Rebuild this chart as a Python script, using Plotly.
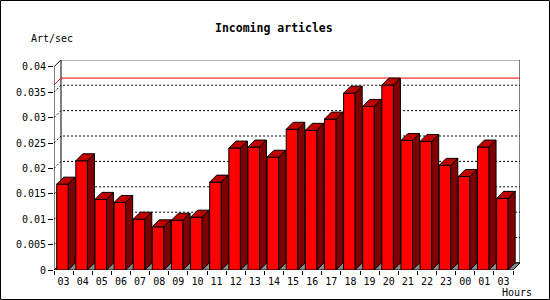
import plotly.graph_objects as go

hours = ["03", "04", "05", "06", "07", "08", "09", "10", "11", "12", "13", "14",
         "15", "16", "17", "18", "19", "20", "21", "22", "23", "00", "01", "03"]
values = [0.0169, 0.0215, 0.0139, 0.0133, 0.0100, 0.0085, 0.0098, 0.0104,
          0.0173, 0.0240, 0.0242, 0.0222, 0.0277, 0.0275, 0.0297, 0.0348,
          0.0322, 0.0364, 0.0255, 0.0253, 0.0206, 0.0184, 0.0242, 0.0141]
y_ticks = [0, 0.005, 0.01, 0.015, 0.02, 0.025, 0.03, 0.035, 0.04]
y_ticktext = ["0", "0.005", "0.01", "0.015", "0.02", "0.025", "0.03", "0.035", "0.04"]

W, H = 550, 300
ML, MR, MT, MB = 54, 30, 60, 30
pw, ph = W - ML - MR, H - MT - MB
slot_px = 19.125
n = len(values)
xmax = pw / slot_px
ytop = y_ticks[-1]
yR = ytop * ph / 203.2
depth_px = 7
dx = depth_px / slot_px
dy = depth_px * yR / ph
off = 0.141
fw = 0.607

FONT = "DejaVu Sans Mono"
fig = go.Figure()

def poly(xs, ys, fill, line="black", width=1, dash=None, mode="lines"):
    fig.add_trace(go.Scatter(x=xs, y=ys, mode=mode, fill="toself" if fill else None,
                             fillcolor=fill, line=dict(color=line, width=width, dash=dash),
                             hoverinfo="skip", showlegend=False))

# back wall
poly([dx, dx, xmax, xmax, dx], [dy, ytop + dy, ytop + dy, dy, dy], "white")
# dotted grid on back wall + side wall diagonals
gx, gy = [], []
for v in y_ticks[1:-1]:
    gx += [0, dx, xmax, None]
    gy += [v, v + dy, v + dy, None]
poly(gx, gy, None, line="black", width=1, dash="2px,2px")
# max line
vmax = max(values)
poly([0, dx, xmax], [vmax, vmax + dy, vmax + dy], None, line="#ff0000", width=1)
# left side wall edges (front axis)
poly([0, 0, dx], [0, ytop, ytop + dy], None, line="black", width=1)
# floor
poly([0, n, n + dx, dx, 0], [0, 0, dy, dy, 0], "#8c8c8c")

# bars
fx, fy, tx, ty, sx, sy = [], [], [], [], [], []
for i, v in enumerate(values):
    x0 = i + off
    x1 = x0 + fw
    fx += [x0, x0, x1, x1, x0, None]
    fy += [0, v, v, 0, 0, None]
    tx += [x0, x0 + dx, x1 + dx, x1, x0, None]
    ty += [v, v + dy, v + dy, v, v, None]
    sx += [x1, x1 + dx, x1 + dx, x1, x1, None]
    sy += [0, dy, v + dy, v, 0, None]
poly(fx, fy, "#ff0000")
poly(tx, ty, "#c00000")
poly(sx, sy, "#800000")

fig.update_layout(
    width=W, height=H,
    margin=dict(l=ML, r=MR, t=MT, b=MB, pad=0),
    paper_bgcolor="white", plot_bgcolor="white",
    font=dict(family=FONT, size=10, color="black"),
    xaxis=dict(range=[0, xmax], showgrid=False, zeroline=False, showline=False,
               tickmode="array", tickvals=[i + 0.5 for i in range(n)], ticktext=hours,
               ticks="", ticklabelstandoff=4, tickfont=dict(family=FONT, size=10),
               minor=dict(tickmode="array", tickvals=list(range(n + 1)), ticks="outside",
                          ticklen=4, tickcolor="black", showgrid=False)),
    yaxis=dict(range=[0, yR], showgrid=False, zeroline=False, showline=False,
               tickmode="array", tickvals=y_ticks, ticktext=y_ticktext,
               ticks="outside", ticklen=5, tickcolor="black",
               tickfont=dict(family=FONT, size=10)),
    annotations=[
        dict(text="<b>Incoming articles</b>", xref="paper", yref="paper",
             x=(274 - ML) / pw, y=(H - MB - 28) / ph, xanchor="center", yanchor="middle",
             showarrow=False, font=dict(family=FONT, size=11.5)),
        dict(text="Art/sec", xref="paper", yref="paper",
             x=(29 - ML) / pw, y=(H - MB - 39) / ph, xanchor="left", yanchor="middle",
             showarrow=False, font=dict(family=FONT, size=10)),
        dict(text="Hours", xref="paper", yref="paper",
             x=(534 - ML) / pw, y=(H - MB - 292) / ph, xanchor="right", yanchor="middle",
             showarrow=False, font=dict(family=FONT, size=10)),
    ],
    shapes=[dict(type="rect", xref="paper", yref="paper",
                 x0=(0.5 - ML) / pw, x1=(W - 0.5 - ML) / pw,
                 y0=(H - MB - (H - 0.5)) / ph, y1=(H - MB - 0.5) / ph,
                 line=dict(color="black", width=1), fillcolor="rgba(0,0,0,0)", layer="above")],
)

fig.write_html("out.html")
